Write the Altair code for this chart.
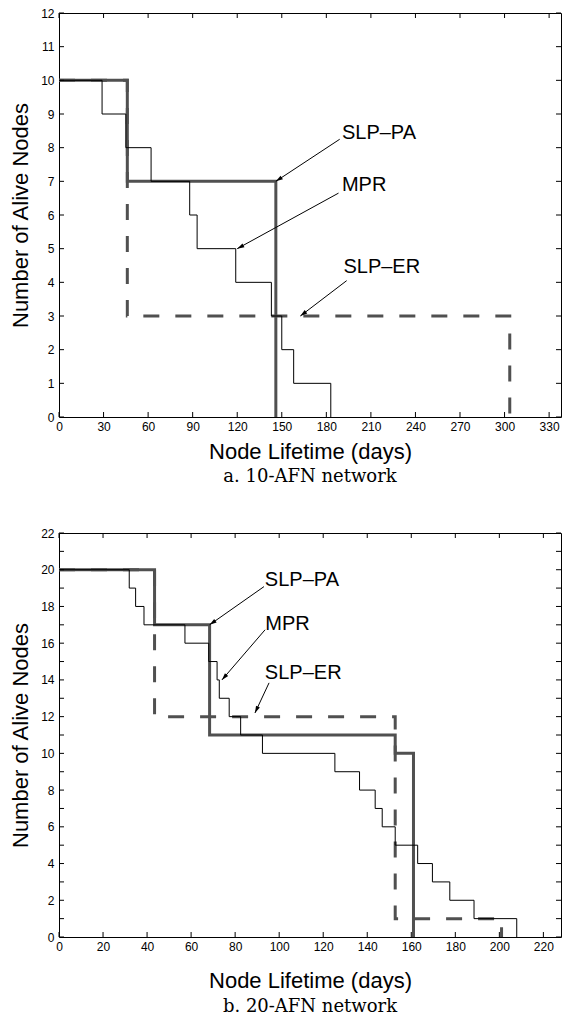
import math
import altair as alt
import pandas as pd

# ---------------- a. 10-AFN network ----------------
a_pa_days = [0, 46, 146]
a_pa_nodes = [10, 7, 0]
a_mpr_days = [0, 29, 45, 62, 88, 93, 119, 143, 150, 158, 183]
a_mpr_nodes = [10, 9, 8, 7, 6, 5, 4, 3, 2, 1, 0]
a_er_days = [0, 46, 303.5]
a_er_nodes = [10, 3, 0]
a_x_ticks = [0, 30, 60, 90, 120, 150, 180, 210, 240, 270, 300, 330]
a_y_ticks = [0, 1, 2, 3, 4, 5, 6, 7, 8, 9, 10, 11, 12]
a_y_labels = [0, 1, 2, 3, 4, 5, 6, 7, 8, 9, 10, 11, 12]
a_labels = ["SLP\u2013PA", "MPR", "SLP\u2013ER"]
a_label_x = [190.5, 190.5, 191.5]
a_label_y = [8.45, 6.9, 4.45]
a_tail_x = [189.0, 188.2, 193.7]
a_tail_y = [8.25, 6.65, 4.05]
a_head_x = [146.0, 120.0, 162.5]
a_head_y = [7.0, 5.0, 3.0]
a_x_max = 338
a_y_max = 12

# ---------------- b. 20-AFN network ----------------
b_pa_days = [0, 43.4, 68.4, 152.7, 161]
b_pa_nodes = [20, 17, 11, 10, 0]
b_mpr_days = [0, 31.9, 34.8, 38.6, 57.2, 68.0, 71.8, 72.8, 77.3, 82.5, 92.4,
              125.3, 136.5, 143.6, 146.8, 152.7, 162.9, 169.6, 177.5, 188.5, 207.9]
b_mpr_nodes = [20, 19, 18, 17, 16, 15, 14, 13, 12, 11, 10,
               9, 8, 7, 6, 5, 4, 3, 2, 1, 0]
b_er_days = [0, 43.4, 152.7, 201]
b_er_nodes = [20, 12, 1, 0]
b_x_ticks = [0, 20, 40, 60, 80, 100, 120, 140, 160, 180, 200, 220]
b_y_ticks = list(range(0, 23))
b_y_labels = [0, 2, 4, 6, 8, 10, 12, 14, 16, 18, 20, 22]
b_labels = ["SLP\u2013PA", "MPR", "SLP\u2013ER"]
b_label_x = [93.5, 93.7, 93.5]
b_label_y = [19.46, 17.04, 14.4]
b_tail_x = [93.1, 93.6, 95.4]
b_tail_y = [19.08, 16.73, 13.84]
b_head_x = [68.4, 74.0, 89.0]
b_head_y = [17.0, 14.0, 12.2]
b_x_max = 228
b_y_max = 22

W = 502
H = 404
GRAY = "#505050"
SANS = "Liberation Sans"


def panel(pa_d, pa_n, mpr_d, mpr_n, er_d, er_n, x_max, y_max, x_ticks, y_ticks,
          y_labels, labels, lx, ly, tx, ty, hx, hy, caption, title_dy, cap_dy):
    xs = alt.Scale(domain=[0, x_max], nice=False, zero=False)
    ys = alt.Scale(domain=[0, y_max], nice=False, zero=False)
    xax = alt.Axis(values=x_ticks, ticks=False, domain=False, grid=False,
                   labelPadding=4, labelFontSize=12, labelFlush=False,
                   title="Node Lifetime (days)", titleFontSize=22,
                   titleFontWeight="normal", titleX=W / 2, titleY=title_dy,
                   titleBaseline="middle")
    yax = alt.Axis(values=y_labels, ticks=False, domain=False, grid=False,
                   labelPadding=5, labelFontSize=12,
                   title="Number of Alive Nodes", titleFontSize=22,
                   titleFontWeight="normal", titleX=-39, titleY=H / 2,
                   titleBaseline="middle", titleAngle=270)

    def line(days, nodes, color, width, dash=None):
        df = pd.DataFrame({"days": days, "nodes": nodes})
        kw = dict(interpolate="step-after", color=color, strokeWidth=width)
        if dash:
            kw["strokeDash"] = dash
        return alt.Chart(df).mark_line(**kw).encode(
            x=alt.X("days:Q", scale=xs, axis=xax),
            y=alt.Y("nodes:Q", scale=ys, axis=yax))

    er = line(er_d, er_n, GRAY, 3, [16, 16])
    pa = line(pa_d, pa_n, GRAY, 3)
    mpr = line(mpr_d, mpr_n, "black", 1)

    xt = pd.DataFrame({"v": x_ticks})
    yt = pd.DataFrame({"v": y_ticks})
    tick_b = alt.Chart(xt).mark_rule(color="black", strokeWidth=1).encode(
        x=alt.X("v:Q", scale=xs, axis=xax), y=alt.value(H), y2=alt.value(H - 5))
    tick_t = alt.Chart(xt).mark_rule(color="black", strokeWidth=1).encode(
        x=alt.X("v:Q", scale=xs, axis=xax), y=alt.value(0), y2=alt.value(5))
    tick_l = alt.Chart(yt).mark_rule(color="black", strokeWidth=1).encode(
        y=alt.Y("v:Q", scale=ys, axis=yax), x=alt.value(0), x2=alt.value(5))
    tick_r = alt.Chart(yt).mark_rule(color="black", strokeWidth=1).encode(
        y=alt.Y("v:Q", scale=ys, axis=yax), x=alt.value(W), x2=alt.value(W - 5))

    ppx = W / x_max
    ppy = H / y_max
    angles = []
    for a, b, c, d in zip(tx, ty, hx, hy):
        dx = (c - a) * ppx
        dy = -(d - b) * ppy
        angles.append(math.degrees(math.atan2(dx, -dy)) % 360)
    ann = pd.DataFrame({"label": labels, "lx": lx, "ly": ly, "tx": tx, "ty": ty,
                        "hx": hx, "hy": hy, "angle": angles})
    text = alt.Chart(ann).mark_text(align="left", baseline="middle", font=SANS,
                                    fontSize=20, color="black").encode(
        x=alt.X("lx:Q", scale=xs, axis=xax), y=alt.Y("ly:Q", scale=ys, axis=yax),
        text="label:N")
    arrow = alt.Chart(ann).mark_rule(color="black", strokeWidth=1).encode(
        x=alt.X("tx:Q", scale=xs, axis=xax), y=alt.Y("ty:Q", scale=ys, axis=yax),
        x2="hx:Q", y2="hy:Q")
    head = alt.Chart(ann).mark_point(shape="M0,0L-0.3,1L0.3,1Z", filled=True,
                                     size=200, color="black", opacity=1,
                                     strokeWidth=0).encode(
        x=alt.X("hx:Q", scale=xs, axis=xax), y=alt.Y("hy:Q", scale=ys, axis=yax),
        angle=alt.Angle("angle:Q", scale=None))
    cap = alt.Chart(pd.DataFrame({"t": [caption]})).mark_text(
        font="DejaVu Serif", fontSize=18, baseline="middle", align="center",
        color="black").encode(x=alt.value(W / 2), y=alt.value(H + cap_dy), text="t:N")

    return alt.layer(er, pa, mpr, tick_b, tick_t, tick_l, tick_r, arrow, head,
                     text, cap).properties(width=W, height=H)


top = panel(a_pa_days, a_pa_nodes, a_mpr_days, a_mpr_nodes, a_er_days, a_er_nodes,
            a_x_max, a_y_max, a_x_ticks, a_y_ticks, a_y_labels, a_labels,
            a_label_x, a_label_y, a_tail_x, a_tail_y, a_head_x, a_head_y,
            "a. 10-AFN network", 34, 60)
bottom = panel(b_pa_days, b_pa_nodes, b_mpr_days, b_mpr_nodes, b_er_days, b_er_nodes,
               b_x_max, b_y_max, b_x_ticks, b_y_ticks, b_y_labels, b_labels,
               b_label_x, b_label_y, b_tail_x, b_tail_y, b_head_x, b_head_y,
               "b. 20-AFN network", 43, 70)

chart = alt.vconcat(top, bottom, spacing=116, bounds="flush").properties(
    padding={"left": 0, "top": -2, "right": 0, "bottom": 0}
).configure_view(stroke="black", strokeWidth=1).configure_axis(
    labelFont=SANS, titleFont=SANS, labelColor="black", titleColor="black")

chart.save("out.html", embed_options={"renderer": "svg", "actions": False})
